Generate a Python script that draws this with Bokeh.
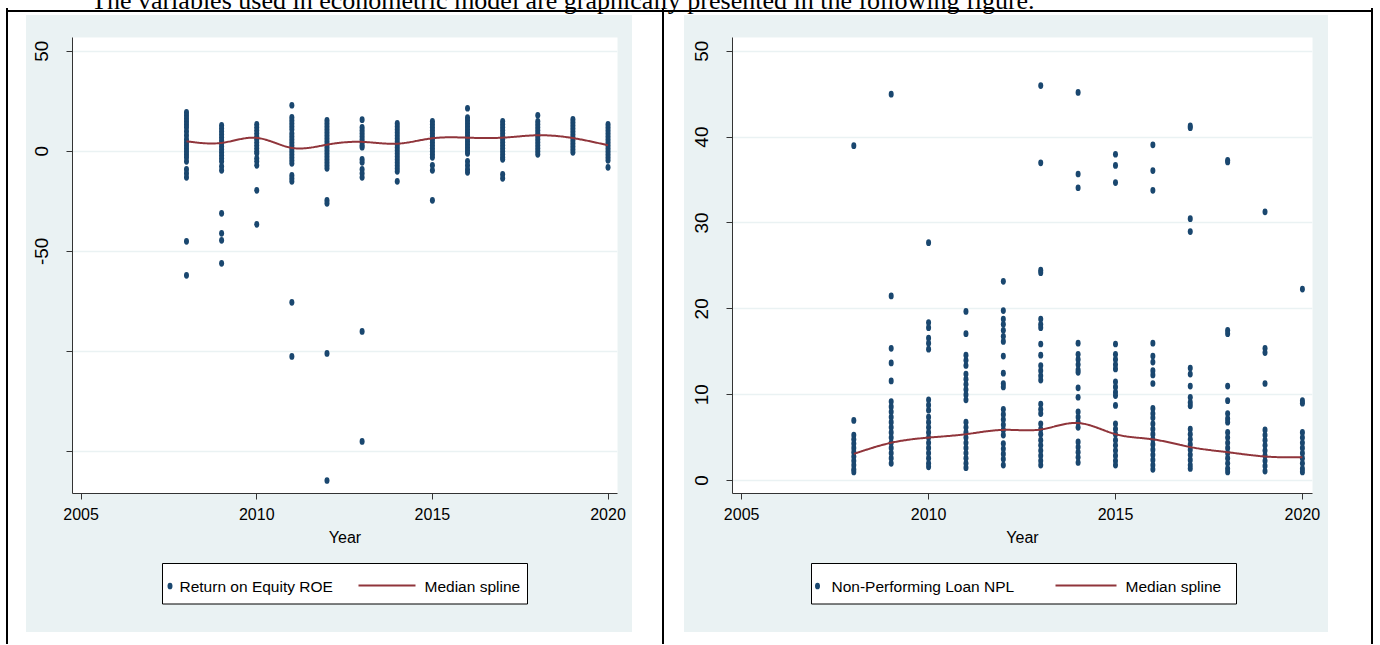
import numpy as np
from bokeh.plotting import figure
from bokeh.models import Range1d, FixedTicker, Div, Spacer
from bokeh.layouts import row, column
from bokeh.embed import file_html
from bokeh.resources import INLINE
from bokeh.core.properties import value

# ---------------- data ----------------
years = [2008, 2009, 2010, 2011, 2012, 2013, 2014, 2015, 2016, 2017, 2018, 2019, 2020]
x_ticks = [2005, 2010, 2015, 2020]
roe_y_ticks = [-150, -100, -50, 0, 50]
roe_y_labels = {-150: "", -100: "", -50: "-50", 0: "0", 50: "50"}
npl_y_ticks = [0, 10, 20, 30, 40, 50]

roe_2008 = [19.5, 18, 16.5, 15, 13.5, 12, 10, 8, 6, 4.5, 3, 1.5, 0, -1.5, -3, -5, -9, -11, -13, -45, -62]
roe_2009 = [13, 11.5, 10, 8.5, 7, 5.5, 4, 2.5, 1, -0.5, -2, -3.5, -5, -7.5, -9.5, -31, -41, -44.5, -56]
roe_2010 = [13.5, 12, 10.5, 9, 7.5, 6, 4.5, 3, 1.5, 0, -1, -3.5, -5, -7, -19.5, -36.5]
roe_2011 = [23, 17, 15.5, 14, 12.5, 11, 9, 7.5, 6, 4.5, 3, 1.5, 0, -1.5, -3, -4.5, -6, -12, -13.5, -15, -75.5, -102.5]
roe_2012 = [15.5, 14, 12.5, 11, 9.5, 8, 6.5, 5, 3.5, 2, 0.5, -1, -2.5, -4, -5.5, -7, -8.5, -24.5, -26, -101, -164.5]
roe_2013 = [15.8, 12, 10.5, 9, 7.5, 6, 4.5, 3, 2, -4, -5.5, -9, -11, -13, -90, -145]
roe_2014 = [14, 12.5, 11, 9.5, 8, 6.5, 5, 3.5, 2, 0.5, -1, -2.5, -4, -5.5, -7, -8.5, -10, -15]
roe_2015 = [15, 13.5, 12, 10.5, 9, 7.5, 6, 4.5, 3, 1.5, 0, -1.5, -3, -7, -9.5, -24.5]
roe_2016 = [21.5, 16.8, 15.3, 13.8, 12.3, 10.8, 9.3, 7.8, 6.3, 4.8, 3.3, 1.8, 0.3, -1, -5, -7, -9, -10.5]
roe_2017 = [15, 13.5, 12, 10.5, 9, 7.5, 6, 4.5, 3, 1.5, 0, -1.5, -3, -4, -11.5, -13.5]
roe_2018 = [18, 15, 13.5, 12, 10.5, 9, 7.5, 6, 4.5, 3, 1.5, 0, -1.5]
roe_2019 = [16, 14.5, 13, 11.5, 10, 8.5, 7, 5.5, 4, 2.5, 1, -0.5]
roe_2020 = [13.5, 12, 10.5, 9, 7.5, 6, 4.5, 3, 1.5, 0, -1.5, -3, -4.5, -8]
roe_median_spline = [5, 4.2, 6.7, 1.7, 3.3, 4.7, 3.8, 6.5, 6.8, 6.8, 8, 6.6, 3]

npl_2008 = [39, 7, 5.3, 4.8, 4.3, 3.8, 3.3, 2.8, 2.3, 1.8, 1.3, 1.0]
npl_2009 = [45, 21.5, 15.4, 13.7, 11.6, 9.2, 8.6, 8, 7.4, 6.8, 6.2, 5.6, 5, 4.4, 3.8, 3.2, 2.6, 2.0]
npl_2010 = [27.7, 18.4, 17.8, 16.6, 16, 15.3, 9.4, 8.8, 8.2, 7.4, 6.8, 6.2, 5.6, 5, 4.4, 3.8, 3.2, 2.6, 2.0, 1.6]
npl_2011 = [19.7, 17.1, 14.6, 14, 13.4, 12.4, 11.8, 11.2, 10.6, 10, 9.4, 6.8, 6.2, 5.6, 5, 4.4, 3.8, 3.2, 2.6, 2.0, 1.5]
npl_2012 = [23.2, 19.8, 18.8, 18.2, 17.5, 16.8, 16.2, 14.5, 12.5, 11.3, 10.9, 8.3, 7.7, 7.1, 6.5, 5.9, 5.3, 4.3, 3.7, 3.1, 2.5, 1.8]
npl_2013 = [46, 37, 24.5, 24.2, 18.8, 18.2, 17.8, 15.9, 14.6, 13.4, 12.8, 12.2, 11.7, 8.9, 8.3, 7.8, 6.6, 6, 5.4, 4.7, 4.1, 3.5, 2.9, 2.3, 1.8]
npl_2014 = [45.2, 35.7, 34.1, 16, 14.7, 14.1, 13.5, 12.9, 12.6, 10.8, 9.7, 8, 7.4, 6.8, 6.2, 4.5, 3.9, 3.3, 2.7, 2.1]
npl_2015 = [38, 36.7, 34.7, 15.9, 14.7, 14.1, 13.5, 13, 11.5, 10.9, 10.3, 9.9, 8.75, 6.6, 6, 5.4, 4.7, 4.1, 3.5, 2.9, 2.3, 1.8]
npl_2016 = [39.1, 36.1, 33.8, 16, 14.5, 13.8, 12.8, 12.3, 11.3, 8.4, 7.8, 7.3, 6.6, 6, 5.4, 4.8, 4.2, 3.6, 3, 2.4, 1.8, 1.3]
npl_2017 = [41.3, 41.1, 30.5, 29, 13.1, 12.4, 11, 9.7, 9.1, 8.7, 6, 5.4, 4.8, 4.2, 3.6, 3, 2.4, 1.8, 1.4]
npl_2018 = [37.3, 37.1, 17.5, 17.1, 11, 9.3, 7.8, 7.2, 6.8, 5.6, 5, 4.4, 3.8, 3.2, 2.6, 2, 1.4, 1.0]
npl_2019 = [31.3, 15.4, 14.9, 11.3, 5.9, 5.3, 4.7, 4.1, 3.5, 2.9, 2.3, 1.7, 1.1]
npl_2020 = [22.3, 9.3, 9, 5.6, 5, 4.4, 3.8, 3.2, 2.6, 2, 1.4, 1.0]
npl_median_spline = [3.1, 4.4, 5.0, 5.4, 5.9, 5.95, 6.7, 5.4, 4.8, 3.9, 3.3, 2.8, 2.7]

roe_by_year = [roe_2008, roe_2009, roe_2010, roe_2011, roe_2012, roe_2013, roe_2014,
               roe_2015, roe_2016, roe_2017, roe_2018, roe_2019, roe_2020]
npl_by_year = [npl_2008, npl_2009, npl_2010, npl_2011, npl_2012, npl_2013, npl_2014,
               npl_2015, npl_2016, npl_2017, npl_2018, npl_2019, npl_2020]

# ---------------- style ----------------
NAVY = "#1a476f"
MAROON = "#90353b"
BG = "#eaf2f3"
AXIS = "#333333"
SANS = "Liberation Sans"
BODY_H = 636


def flatten(by_year):
    xs, ys = [], []
    for yr, vals in zip(years, by_year):
        xs += [yr] * len(vals)
        ys += vals
    return xs, ys


def natural_spline(xk, yk, num=400):
    xk = np.asarray(xk, float)
    yk = np.asarray(yk, float)
    n = len(xk)
    h = np.diff(xk)
    A = np.zeros((n, n))
    b = np.zeros(n)
    A[0, 0] = A[-1, -1] = 1
    for i in range(1, n - 1):
        A[i, i - 1] = h[i - 1]
        A[i, i] = 2 * (h[i - 1] + h[i])
        A[i, i + 1] = h[i]
        b[i] = 6 * ((yk[i + 1] - yk[i]) / h[i] - (yk[i] - yk[i - 1]) / h[i - 1])
    M = np.linalg.solve(A, b)
    xs = np.linspace(xk[0], xk[-1], num)
    idx = np.clip(np.searchsorted(xk, xs) - 1, 0, n - 2)
    x0, x1 = xk[idx], xk[idx + 1]
    hh = x1 - x0
    t0, t1 = x1 - xs, xs - x0
    ys = (M[idx] * t0 ** 3 / (6 * hh) + M[idx + 1] * t1 ** 3 / (6 * hh)
          + (yk[idx] / hh - M[idx] * hh / 6) * t0 + (yk[idx + 1] / hh - M[idx + 1] * hh / 6) * t1)
    return xs, ys


def main_fig(width, ml, mr, y_range, yticks, ylabels, by_year, knots):
    p = figure(width=width, height=540, x_range=Range1d(2004.755, 2020.27), y_range=y_range,
               output_backend="svg", toolbar_location=None,
               min_border_left=ml, min_border_right=mr, min_border_top=22, min_border_bottom=62)
    p.background_fill_color = "white"
    p.border_fill_color = BG
    p.outline_line_color = None
    p.xgrid.visible = False
    p.ygrid.grid_line_color = BG
    p.ygrid.grid_line_width = 1.6
    p.xaxis.ticker = FixedTicker(ticks=x_ticks)
    p.yaxis.ticker = FixedTicker(ticks=yticks)
    if ylabels:
        p.yaxis.major_label_overrides = ylabels
    for ax in (p.xaxis, p.yaxis):
        ax.axis_line_color = AXIS
        ax.major_tick_line_color = AXIS
        ax.major_tick_out = 6
        ax.major_tick_in = 0
        ax.minor_tick_line_color = None
        ax.major_label_text_color = "black"
    p.xaxis.major_label_text_font = SANS
    p.xaxis.major_label_text_font_size = "16px"
    p.xaxis.major_label_standoff = 8
    p.xaxis.axis_label = "Year"
    p.xaxis.axis_label_text_font = SANS
    p.xaxis.axis_label_text_font_size = "16px"
    p.xaxis.axis_label_text_font_style = "normal"
    p.xaxis.axis_label_text_color = "black"
    p.xaxis.axis_label_standoff = 6
    p.yaxis.major_label_orientation = "vertical"
    p.yaxis.major_label_text_font = SANS
    p.yaxis.major_label_text_font_size = "19px"
    p.yaxis.major_label_standoff = 18

    xs, ys = flatten(by_year)
    p.ellipse(x=xs, y=ys, width=5, height=6.7, width_units="screen", height_units="screen",
              fill_color=NAVY, line_color=None)
    sx, sy = natural_spline(years, knots)
    p.line(sx, sy, line_color=MAROON, line_width=2)
    return p


def legend_fig(width, ml, mr, box_l, box_r, dot_x, t1x, t1, lx0, lx1, t2x, t2):
    # coordinates are pixels measured from the left / top edge of the grey graph region
    p = figure(width=width, height=77, x_range=Range1d(ml, width - mr), y_range=Range1d(77, 0),
               output_backend="svg", toolbar_location=None,
               min_border_left=ml, min_border_right=mr, min_border_top=0, min_border_bottom=0,
               x_axis_type=None, y_axis_type=None)
    p.background_fill_color = BG
    p.border_fill_color = BG
    p.outline_line_color = None
    p.quad(left=[box_l], right=[box_r], top=[8], bottom=[48.5],
           fill_color="white", line_color="black", line_width=1)
    p.ellipse(x=[dot_x], y=[30.5], width=5, height=6.7, width_units="screen", height_units="screen",
              fill_color=NAVY, line_color=None)
    p.line([lx0, lx1], [30, 30], line_color=MAROON, line_width=2)
    p.text(x=[t1x, t2x], y=[30.5, 30.5], text=[t1, t2], text_baseline="middle", text_align="left",
           text_font=value(SANS), text_font_size="15.5px", text_color="black")
    return p


roe_main = main_fig(606, 46, 15, Range1d(-171, 56.85), roe_y_ticks, roe_y_labels,
                    roe_by_year, roe_median_spline)
roe_leg = legend_fig(606, 46, 15, 136, 501, 143.5, 153, "Return on Equity ROE", 332, 389, 398, "Median spline")

npl_main = main_fig(644, 48, 16, Range1d(-1.51, 51.6), npl_y_ticks, None,
                    npl_by_year, npl_median_spline)
npl_leg = legend_fig(644, 48, 16, 127, 552, 133, 147, "Non-Performing Loan NPL", 371, 432, 441, "Median spline")


def vline():
    return Div(width=2, height=BODY_H, margin=0, styles={"background-color": "black"})


def gap(w, h=BODY_H):
    return Spacer(width=w, height=h, margin=0)


left_graph = column(roe_main, roe_leg, styles={"background-color": BG})
right_graph = column(npl_main, npl_leg, styles={"background-color": BG})
left_col = column(gap(606, 7), left_graph, gap(606, 12))
right_col = column(gap(644, 7), right_graph, gap(644, 12))

body = row(gap(6), vline(), gap(18), left_col, gap(30), vline(), gap(20), right_col, gap(43), vline())

top_html = (
    '<div style="position:relative; width:1373px; height:8px;">'
    '<div style="position:absolute; left:6px; top:6px; width:1367px; height:2px; background:#000;"></div>'
    '<div style="position:absolute; left:91px; top:-16px; font-family:\'Liberation Serif\'; '
    'font-size:26px; line-height:26px; white-space:nowrap; color:#000;">'
    'The variables used in econometric model are graphically presented in the following figure.</div>'
    '</div>'
)
top = Div(width=1373, height=8, margin=0, styles={"overflow": "visible"}, text=top_html)

layout = column(top, body)

with open("out.html", "w") as f:
    f.write(file_html(layout, INLINE))
